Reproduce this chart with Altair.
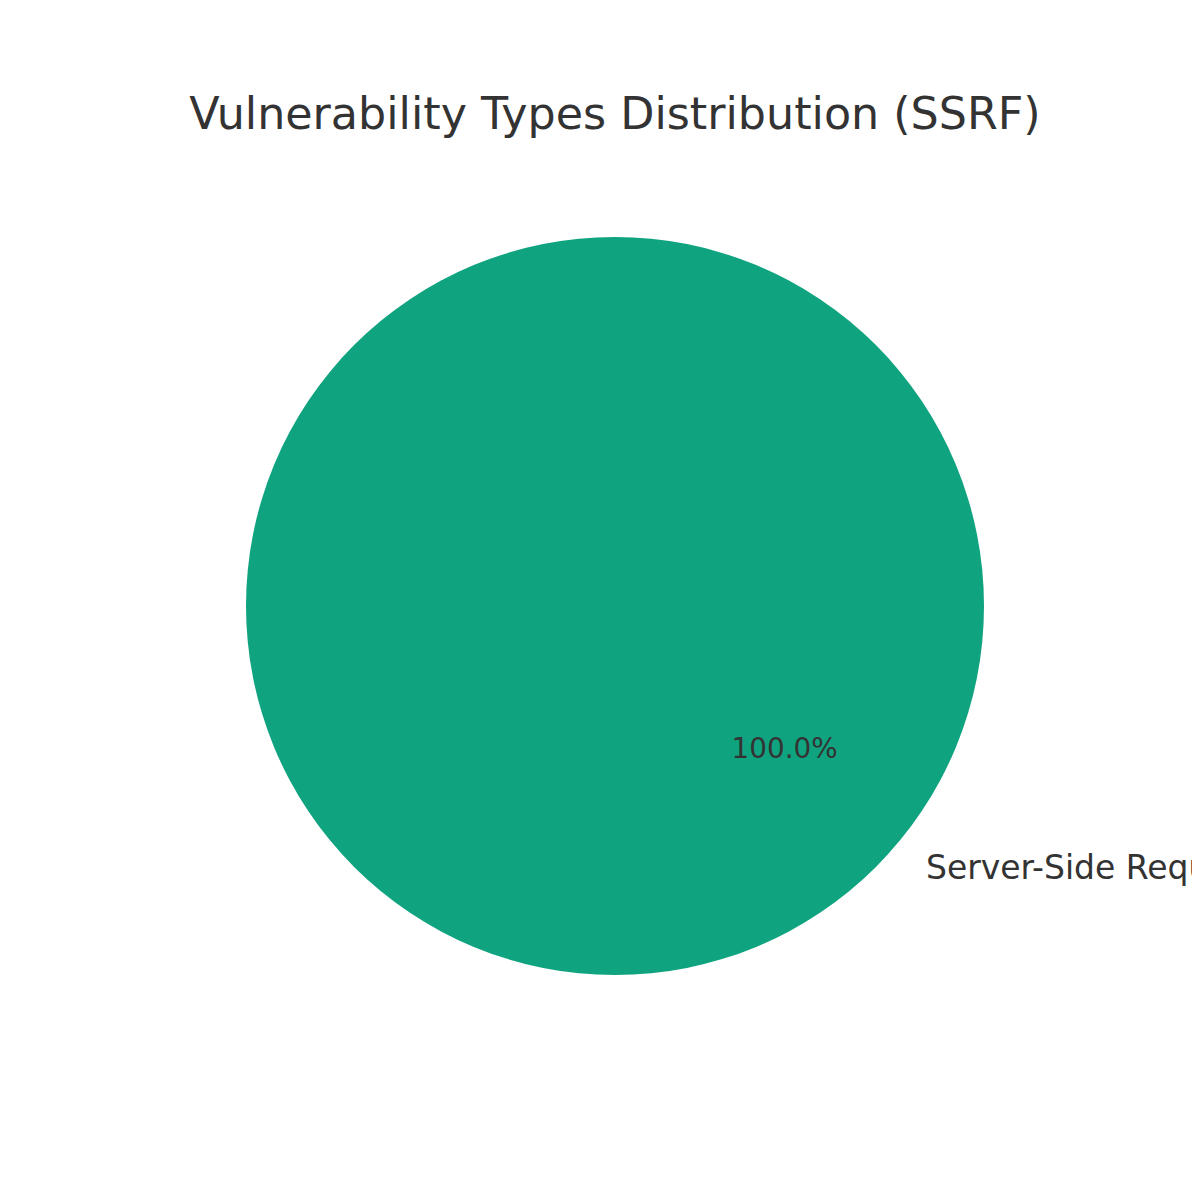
import altair as alt
import pandas as pd

categories = ["Server-Side Request Forgery (SSRF)"]
counts = [1]
colors = ["#10A37F"]
title_text = "Vulnerability Types Distribution (SSRF)"

total = sum(counts)
df = pd.DataFrame({
    "category": categories,
    "count": counts,
    "pct": [f"{c / total * 100:.1f}%" for c in counts],
})

CX, CY, R = 607, 598, 369
THETA = 2.2689  # 130 degrees, mid-angle of matplotlib-style startangle=140

base = alt.Chart(df)

pie = base.mark_arc(radius=R, x=CX, y=CY).encode(
    theta=alt.Theta("count:Q", stack=True),
    color=alt.Color("category:N", scale=alt.Scale(domain=categories, range=colors), legend=None),
)

pct = base.mark_text(
    x=CX, y=CY, radius=R * 0.6, theta=THETA, font="DejaVu Sans", fontSize=27.8,
    color="#333333", align="center", baseline="middle", dy=2,
).encode(text="pct:N")

label = base.mark_text(
    x=CX, y=CY, radius=R * 1.1, theta=THETA, font="DejaVu Sans", fontSize=33,
    color="#333333", align="left", baseline="middle", dy=2,
).encode(text="category:N")

title = alt.Chart(pd.DataFrame({"t": [title_text]})).mark_text(
    font="DejaVu Sans", fontSize=44.4, color="#333333", align="center", baseline="middle",
).encode(text="t:N", x=alt.value(607), y=alt.value(108))

chart = alt.layer(pie, pct, label, title).properties(
    width=1184, height=1184, padding=0, background="white",
    autosize=alt.AutoSizeParams(type="none"),
).configure_view(strokeWidth=0, stroke="transparent")

chart.save("out.html", embed_options={"renderer": "svg", "actions": False})
